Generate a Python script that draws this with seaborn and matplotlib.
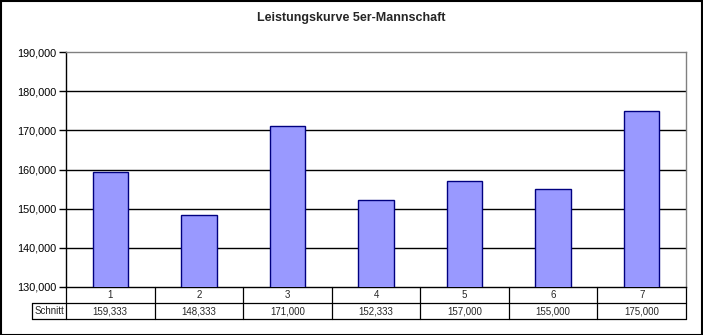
import matplotlib
matplotlib.use("Agg")
import matplotlib.pyplot as plt
import seaborn as sns
import pandas as pd
from matplotlib.lines import Line2D
from matplotlib.patches import Rectangle

# data
categories = ["1", "2", "3", "4", "5", "6", "7"]
schnitt = [159.333, 148.333, 171.000, 152.333, 157.000, 155.000, 175.000]
y_ticks = [130, 140, 150, 160, 170, 180, 190]
row_label = "Schnitt"
title = "Leistungskurve 5er-Mannschaft"

def de_fmt(v):
    return f"{v:.3f}".replace(".", ",")

sns.set_style("white")
plt.rcParams["font.family"] = ["Liberation Sans", "DejaVu Sans"]

W, H = 703, 335
fig = plt.figure(figsize=(W / 100, H / 100), dpi=100)
fig.patch.set_facecolor("white")

L, R, T, B = 66, 686, 52, 287
ax = fig.add_axes([L / W, 1 - B / H, (R - L) / W, (B - T) / H])

df = pd.DataFrame({"Kategorie": categories, "Schnitt": schnitt})
sns.barplot(data=df, x="Kategorie", y="Schnitt", ax=ax, width=0.4,
            color="#9999FF", edgecolor="#000080", linewidth=1.0,
            saturation=1, zorder=3)
for p in ax.patches:
    p.set_facecolor("#9999FF")

n = len(categories)
ax.set_ylim(y_ticks[0], y_ticks[-1])
ax.set_xlim(-0.5, n - 0.5)
ax.set_yticks(y_ticks)
ax.set_yticklabels([de_fmt(v) for v in y_ticks], fontsize=7.8, color="#000000")
ax.set_xticks([])
ax.set_xlabel("")
ax.set_ylabel("")
ax.tick_params(axis="y", direction="out", length=5, width=1, color="black", pad=2, left=True)
for v in y_ticks[1:-1]:
    ax.axhline(v, color="black", linewidth=1, zorder=1)

for s in ["top", "right"]:
    ax.spines[s].set_color("#808080")
    ax.spines[s].set_linewidth(1)
for s in ["left", "bottom"]:
    ax.spines[s].set_color("black")
    ax.spines[s].set_linewidth(1)

# data table (drawn below the axes)
axw, axh = R - L, B - T
row_h = 16 / axh
lab_x = (32 - L) / axw
tr = ax.get_xaxis_transform()   # x in data, y in axes fraction
ta = ax.transAxes
lw = 0.9

def hline(y, x0, x1):
    ax.add_line(Line2D([x0, x1], [y, y], transform=ta, color="black",
                       linewidth=lw, clip_on=False))

def vline_axes(x, y0, y1):
    ax.add_line(Line2D([x, x], [y0, y1], transform=ta, color="black",
                       linewidth=lw, clip_on=False))

hline(-row_h, lab_x, 1)
hline(-2 * row_h, lab_x, 1)
vline_axes(lab_x, -2 * row_h, -row_h)
vline_axes(0, -2 * row_h, 0)
vline_axes(1, -2 * row_h, 0)
for j in range(n - 1):
    ax.add_line(Line2D([j + 0.5, j + 0.5], [-2 * row_h, 0], transform=tr,
                       color="black", linewidth=lw, clip_on=False))

for j, c in enumerate(categories):
    ax.text(j, -0.5 * row_h, c, transform=tr, ha="center", va="center",
            fontsize=7, clip_on=False)
    ax.text(j, -1.5 * row_h, de_fmt(schnitt[j]), transform=tr, ha="center",
            va="center", fontsize=7, clip_on=False)
ax.text(lab_x / 2, -1.5 * row_h, row_label, transform=ta, ha="center",
        va="center", fontsize=7, clip_on=False)

fig.text(0.5, 1 - 18 / H, title, ha="center", va="center",
         fontsize=9, fontweight="bold")

fig.patches.append(Rectangle((0.5 / W, 0.5 / H), 1 - 1.5 / W, 1 - 1.5 / H,
                             transform=fig.transFigure, fill=False,
                             edgecolor="black", linewidth=1.5))

fig.savefig("out.png", dpi=100)
